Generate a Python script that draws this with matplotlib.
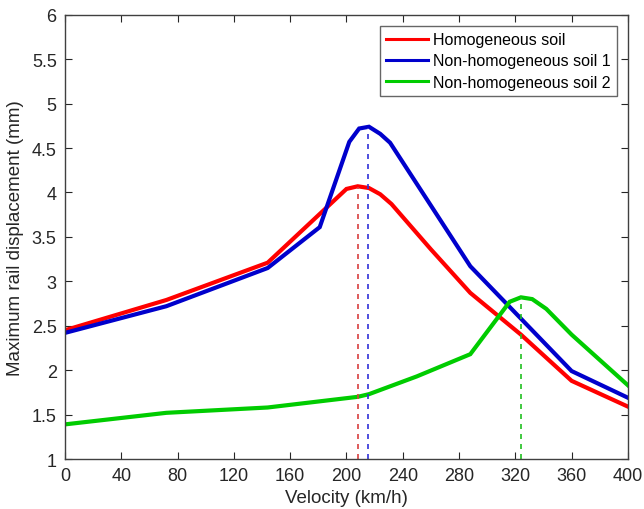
import matplotlib
matplotlib.use("Agg")
import matplotlib.pyplot as plt

plt.rcParams['font.family'] = ['Liberation Sans', 'DejaVu Sans']

v_red = [0, 72, 144, 200, 208, 216, 224, 232, 260, 288, 324, 360, 400]
d_red = [2.45, 2.79, 3.21, 4.04, 4.07, 4.05, 3.98, 3.87, 3.36, 2.87, 2.40, 1.88, 1.59]

v_blue = [0, 72, 144, 181, 202, 209, 216, 224, 231, 288, 324, 360, 400]
d_blue = [2.42, 2.72, 3.15, 3.61, 4.57, 4.72, 4.74, 4.66, 4.56, 3.17, 2.58, 1.99, 1.69]

v_green = [0, 72, 144, 208, 216, 250, 288, 316, 324, 332, 342, 360, 400]
d_green = [1.39, 1.52, 1.58, 1.70, 1.73, 1.93, 2.18, 2.77, 2.82, 2.80, 2.69, 2.40, 1.83]

peak_v = [208, 215, 324]
peak_d = [4.06, 4.73, 2.82]

labels = ['Homogeneous soil', 'Non-homogeneous soil 1', 'Non-homogeneous soil 2']
colors = ['#ff0000', '#0000cc', '#00cc00']
dash_colors = ['#d84040', '#3030d8', '#20c020']

fig = plt.figure(figsize=(6.44, 5.10), dpi=100)
ax = fig.add_axes([0.101, 0.098, 0.874, 0.871])

for v, d, c, l in zip([v_red, v_blue, v_green], [d_red, d_blue, d_green], colors, labels):
    ax.plot(v, d, color=c, lw=3.0, label=l, solid_joinstyle='miter')

for pv, pd, c in zip(peak_v, peak_d, dash_colors):
    ax.plot([pv, pv], [1, pd], color=c, lw=1.2, ls=(0, (3, 3)))

ax.set_xlim(0, 400)
ax.set_ylim(1, 6)
ax.set_xticks(range(0, 401, 40))
ax.set_yticks([1, 1.5, 2, 2.5, 3, 3.5, 4, 4.5, 5, 5.5, 6])
ax.set_yticklabels(['1', '1.5', '2', '2.5', '3', '3.5', '4', '4.5', '5', '5.5', '6'])
ax.tick_params(direction='in', top=True, right=True, labelsize=13, colors='#262626', length=5, pad=6)
for s in ax.spines.values():
    s.set_color('#404040')
    s.set_linewidth(1.0)
ax.set_xlabel('Velocity (km/h)', fontsize=13.5, color='#262626', labelpad=3)
ax.set_ylabel('Maximum rail displacement (mm)', fontsize=13.5, color='#262626', labelpad=6)

leg = ax.legend(loc='upper right', fontsize=11.5, frameon=True, fancybox=False,
                edgecolor='#404040', handlelength=2.6, handletextpad=0.3,
                borderpad=0.4, labelspacing=0.38, borderaxespad=0.7)
leg.get_frame().set_linewidth(1.0)
for line in leg.get_lines():
    line.set_linewidth(2.2)

fig.savefig('out.png', dpi=100)
